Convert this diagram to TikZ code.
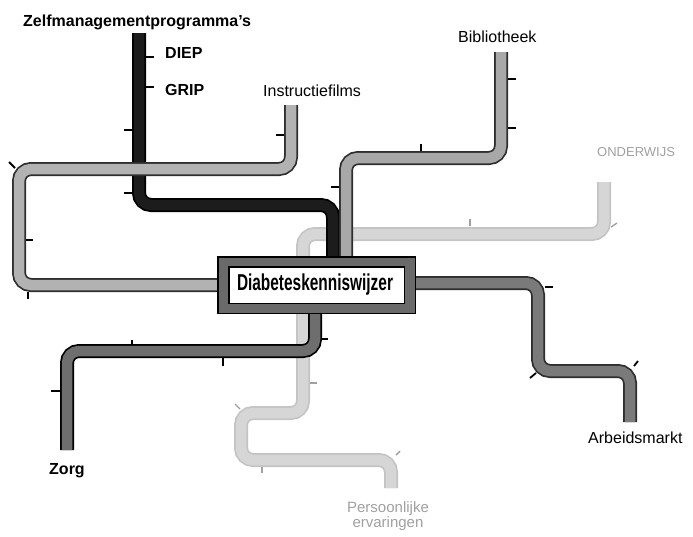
\documentclass[tikz,border=0pt]{standalone}
\usepackage{fontspec}
\setmainfont{Liberation Sans}
\definecolor{cBlack}{HTML}{1C1C1C}
\definecolor{cInstr}{HTML}{B2B2B2}
\definecolor{cBibl}{HTML}{A8A8A8}
\definecolor{cOnd}{HTML}{D6D6D6}
\definecolor{cOndEdge}{HTML}{C4C4C4}
\definecolor{cZorg}{HTML}{6E6E6E}
\definecolor{cArb}{HTML}{7A7A7A}
\definecolor{cEdge}{HTML}{2E2E2E}
\definecolor{cFrame}{HTML}{6A6A6A}
\definecolor{cLabelLight}{HTML}{A0A0A0}
\begin{document}
\begin{tikzpicture}[x=1pt,y=-1pt,
  rail/.style 2 args={rounded corners=12pt, line width=10.5pt, draw=#1,
    preaction={draw=#2, line width=14pt}},
  stn/.style={draw=black, line width=1.8pt},
  stnlight/.style={draw=cLabelLight, line width=1.4pt},
  lbl/.style={inner sep=0pt, font=\fontsize{16}{19}\selectfont},
  lblb/.style={inner sep=0pt, font=\fontsize{16}{19}\selectfont\bfseries},
  lbllight/.style={inner sep=0pt, text=cLabelLight, font=\fontsize{15}{17}\selectfont},
]
\useasboundingbox (0,0) rectangle (693,536);

% central box corners
\coordinate (boxNW) at (217,256);
\coordinate (boxSE) at (416,314);

% end points
\coordinate (zsTop) at (139,33);
\coordinate (zsEnd) at (333,262);
\coordinate (inTop) at (291,105);
\coordinate (inEnd) at (222,285);
\coordinate (biTop) at (501,52);
\coordinate (biEnd) at (346,262);
\coordinate (onTop) at (604,182);
\coordinate (onEnd) at (303,262);
\coordinate (peStart) at (303,308);
\coordinate (peEnd) at (391,488);
\coordinate (zoStart) at (315,308);
\coordinate (zoEnd) at (67,450);
\coordinate (arStart) at (410,283);
\coordinate (arEnd) at (630,422);

% ONDERWIJS / Persoonlijke ervaringen (light)
\draw[rail={cOnd}{cOndEdge}] (onTop) -- (604,234) -- (303,234) -- (onEnd);
\draw[rail={cOnd}{cOndEdge}] (peStart) -- (303,413) -- (241,413) -- (241,460) -- (391,460) -- (peEnd);

% Zelfmanagementprogramma's (black)
\draw[rail={cBlack}{black}] (zsTop) -- (139,205) -- (333,205) -- (zsEnd);

% Instructiefilms
\draw[rail={cInstr}{cEdge}] (inTop) -- (291,169) -- (19,169) -- (19,285) -- (inEnd);

% Bibliotheek
\draw[rail={cBibl}{cEdge}] (biTop) -- (501,158) -- (346,158) -- (biEnd);

% Zorg
\draw[rail={cZorg}{black}] (zoStart) -- (315,351) -- (67,351) -- (zoEnd);

% Arbeidsmarkt
\draw[rail={cArb}{cEdge}] (arStart) -- (538,283) -- (538,371) -- (630,371) -- (arEnd);

% central box
\fill[black] (boxNW) rectangle (boxSE);
\fill[cFrame] (218.5,257.5) rectangle (414.5,312.5);
\fill[black] (228,266) rectangle (405,304);
\fill[white] (229.5,267.5) rectangle (403.5,302.5);
\node[inner sep=0pt, font=\fontsize{23}{25}\selectfont\bfseries] (box) at (315,285)
  {\resizebox{156pt}{\height}{Diabeteskenniswijzer}};

% stations: black line
\draw[stn] (146,57) -- (154,57);
\draw[stn] (146,87) -- (154,87);
\draw[stn] (124,130) -- (132,130);
\draw[stn] (124,193) -- (132,193);
% Instructiefilms
\draw[stn] (276,135) -- (284,135);
\draw[stn] (9,162) -- (15,168);
\draw[stn, line width=1.2pt] (26,240) -- (33,240);
\draw[stn, line width=1.2pt] (28,292) -- (28,299);
% Bibliotheek
\draw[stn] (508,79) -- (516,79);
\draw[stn] (508,128) -- (516,128);
\draw[stn, line width=1.2pt] (421,144) -- (421,151);
\draw[stn] (331,187) -- (339,187);
% ONDERWIJS
\draw[stnlight] (470,219) -- (470,226);
\draw[stnlight] (611,227) -- (617,223);
% Persoonlijke ervaringen
\draw[stnlight] (310,383) -- (317,383);
\draw[stnlight] (235,404) -- (240,409);
\draw[stnlight] (262,467) -- (262,473);
\draw[stnlight] (396,455) -- (400,451);
% Zorg
\draw[stn] (132,340) -- (132,345);
\draw[stn] (223,358) -- (223,366);
\draw[stn] (321,339) -- (328,339);
\draw[stn] (51,391) -- (60,391);
% Arbeidsmarkt
\draw[stn] (545,287) -- (553,287);
\draw[stn] (530,378) -- (536,373);
\draw[stn] (634,366) -- (638,361);

% labels
\node[lblb, anchor=base west] (lZelf) at (23,26) {Zelfmanagementprogramma's};
\node[lblb, anchor=base west] (lDiep) at (165,58) {DIEP};
\node[lblb, anchor=base west] (lGrip) at (165,95) {GRIP};
\node[lbl, anchor=base west] (lInstr) at (263,96) {Instructiefilms};
\node[lbl, anchor=base west] (lBibl) at (458,42) {Bibliotheek};
\node[inner sep=0pt, text=cLabelLight, font=\fontsize{13}{15}\selectfont, anchor=base west] (lOnd) at (597,156) {ONDERWIJS};
\node[lbl, anchor=base west] (lArb) at (588,443) {Arbeidsmarkt};
\node[lblb, anchor=base west] (lZorg) at (49,474) {Zorg};
\node[lbllight, anchor=base] (lPers) at (388,512) {Persoonlijke};
\node[lbllight, anchor=base] (lErv) at (388,527) {ervaringen};
\end{tikzpicture}
\end{document}
